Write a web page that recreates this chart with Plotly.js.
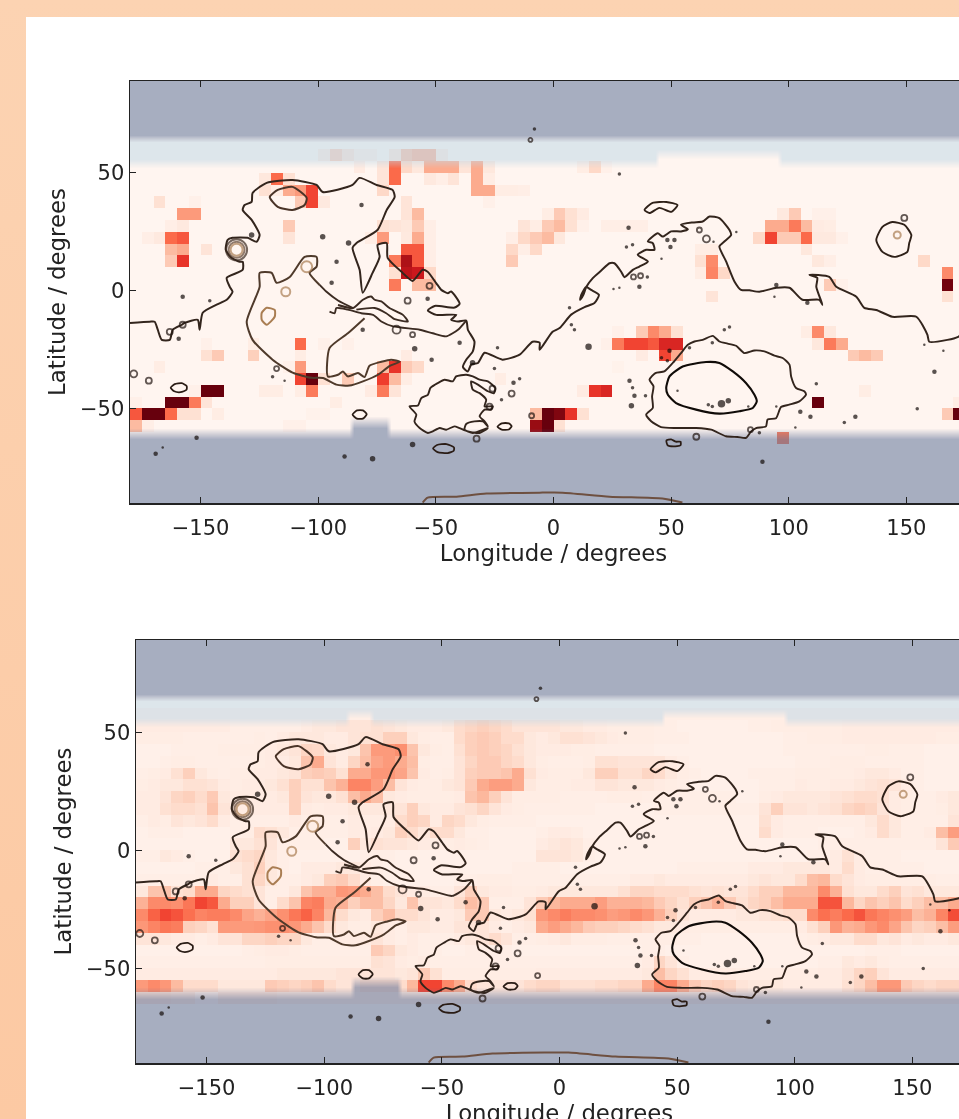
<!DOCTYPE html>
<html><head><meta charset="utf-8">
<script src="https://cdn.plot.ly/plotly-3.0.1.min.js"></script>
<style>
html,body{margin:0;padding:0;width:959px;height:1119px;overflow:hidden;background:linear-gradient(180deg,#fcd3b2,#fcc9a3);}
#chart{position:absolute;left:26px;top:17px;width:1000px;height:1140px;filter:blur(0.5px);}
</style></head><body><div id="chart"></div>
<script>
// Longitude / latitude of the lower-left corner of every 5 degree cell, value in percent of the colour range
const lonCells = []; for (let i = 0; i < 72; i++) lonCells.push(-180 + 5 * i);
const latCells = []; for (let i = 0; i < 36; i++) latCells.push(-90 + 5 * i);
const xTicks = [-150,-100,-50,0,50,100,150];
const yTicks = [-50,0,50];
const xTitle = 'Longitude / degrees';
const yTitle = 'Latitude / degrees';

// upper panel: sparse cells [lon, lat, percent]
const cellsA = [
[-100,55,8],[-95,55,20],[-90,55,12],[-85,55,5],[-80,55,5],[-70,55,10],[-65,55,25],[-60,55,30],[-55,55,30],[-50,55,8],
[-85,50,6],[-75,50,10],[-70,50,50],[-65,50,15],[-60,50,8],[-55,50,30],[-50,50,30],[-45,50,30],[-40,50,10],[-35,50,30],[-30,50,8],[10,50,5],[15,50,15],[20,50,3],
[-125,45,8],[-120,45,50],[-115,45,12],[-75,45,10],[-70,45,50],[-55,45,7],[-50,45,4],[-45,45,10],[-35,45,30],[-30,45,5],
[-125,40,12],[-120,40,5],[-115,40,30],[-110,40,35],[-105,40,60],[-75,40,15],[-35,40,30],[-30,40,30],[-25,40,5],[-20,40,5],[-15,40,4],
[-170,35,12],[-155,35,3],[-110,35,20],[-105,35,60],[-100,35,7],[-65,35,10],[-30,35,3],
[-160,30,35],[-155,30,35],[-65,30,10],[-60,30,25],[-5,30,5],[0,30,20],[5,30,12],[10,30,6],[95,30,7],[100,30,20],[110,30,3],[115,30,3],
[-165,25,4],[-160,25,7],[-115,25,20],[-75,25,12],[-70,25,10],[-65,25,8],[-60,25,20],[-55,25,4],[-15,25,10],[-10,25,5],[-5,25,20],[0,25,25],[5,25,12],[10,25,3],[20,25,4],[25,25,4],[30,25,4],[35,25,4],[90,25,30],[95,25,30],[100,25,45],[105,25,25],[110,25,6],[115,25,5],
[-175,20,4],[-170,20,7],[-165,20,50],[-160,20,55],[-115,20,10],[-80,20,5],[-75,20,35],[-65,20,7],[-60,20,30],[-55,20,4],[-20,20,4],[-15,20,15],[-10,20,20],[-5,20,25],[0,20,8],[85,20,15],[90,20,60],[95,20,20],[100,20,20],[105,20,50],[110,20,7],[115,20,7],[120,20,3],
[-165,15,25],[-160,15,30],[-150,15,10],[-65,15,55],[-60,15,55],[-55,15,4],[-20,15,15],[-15,15,4],[-10,15,15],[60,15,5],[65,15,5],[105,15,8],
[-165,10,20],[-160,10,65],[-70,10,45],[-65,10,85],[-60,10,55],[-55,10,4],[-20,10,20],[60,10,12],[65,10,40],[110,10,8],[115,10,4],[155,10,15],
[-70,5,12],[-65,5,80],[-60,5,75],[-55,5,15],[60,5,5],[65,5,42],[70,5,15],[165,5,40],
[-70,0,45],[-60,0,25],[-55,0,25],[115,0,20],[120,0,3],[165,0,98],
[65,-5,10],[165,-5,12],
[-150,-25,3],[-130,-25,5],[-110,-25,50],[-100,-25,3],[-90,-25,3],[25,-20,3],[35,-20,20],[40,-20,40],[45,-20,30],[50,-20,12],[105,-20,5],[110,-20,40],[115,-20,8],
[20,-25,3],[25,-25,45],[30,-25,60],[35,-25,60],[40,-25,55],[45,-25,70],[50,-25,70],[110,-25,8],[115,-25,45],[120,-25,30],
[-150,-30,12],[-145,-30,20],[-130,-30,18],[-110,-30,5],[-65,-30,6],[35,-30,6],[45,-30,60],[50,-30,30],[125,-30,20],[130,-30,25],[135,-30,20],
[-170,-35,5],[-115,-35,3],[-110,-35,35],[-75,-35,25],[-70,-35,65],[-65,-35,20],[-60,-35,15],[25,-35,2],
[-110,-40,60],[-105,-40,100],[-100,-40,12],[-90,-40,20],[-75,-40,62],[-70,-40,25],[-65,-40,5],[-25,-40,5],
[-155,-45,3],[-150,-45,100],[-145,-45,100],[-125,-45,5],[-120,-45,5],[-110,-45,5],[-105,-45,45],[-80,-45,6],[-75,-45,45],[-70,-45,10],[10,-45,6],[15,-45,65],[20,-45,70],[130,-45,5],
[-180,-50,3],[-165,-50,100],[-160,-50,100],[-155,-50,45],[-150,-50,10],[-95,-50,5],[110,-50,100],[170,-50,5],
[-180,-55,55],[-175,-55,100],[-170,-55,100],[-165,-55,50],[-160,-55,12],[-155,-55,12],[-145,-55,5],[-105,-55,2],[-100,-55,2],[-10,-55,25],[-5,-55,100],[0,-55,95],[5,-55,65],[10,-55,12],[165,-55,20],[170,-55,100],
[-180,-60,25],[-175,-60,4],[-115,-60,3],[-110,-60,3],[-10,-60,90],[-5,-60,100],[0,-60,12],
[95,-65,45]
];

// lower panel: dense rows, each row lists lon -180 .. 175 in steps of 5, percent of colour range
const rowN55=[4,4,4,4,4,4,4,4,4,4,4,4, 4,4,4,4,4,4,4,4,4,4,4,4, 4,4,4,4,4,4,4,4,4,4,4,4, 4,4,4,4,4,4,4,4,4,4,4,4, 4,4,4,4,4,4,4,4,4,4,4,4, 4,4,4,4,4,4,4,4,4,4,4,4];
const rowN50=[6,6,6,6,6,6,6,6,4,4,4,4, 4,4,6,8,8,10,10,10,12,10,8,6, 6,6,8,14,16,18,16,14,10,10,10,10, 8,8,6,6,5,5,5,5,4,4,3,3, 3,3,3,3,4,4,5,5,5,5,5,5, 6,6,6,6,6,6,6,6,6,6,6,6];
const rowN45=[5,5,5,5,4,4,4,4,4,4,5,4, 6,8,8,8,6,6,10,12,12,18,18,8, 5,4,4,14,18,20,18,14,14,8,6,8, 12,12,10,8,6,5,5,5,4,4,4,3, 3,3,3,3,3,3,3,4,4,5,5,5, 6,6,6,6,6,6,6,6,5,5,5,5];
const rowN40=[3,3,3,4,4,4,4,5,5,5,5,6, 8,10,16,15,8,6,8,22,35,35,38,22, 8,5,4,12,18,20,18,16,12,8,6,6, 6,5,5,4,4,4,4,4,3,3,3,3, 3,3,3,3,3,3,3,4,4,4,4,4, 4,4,5,5,4,4,4,3,3,3,3,3];
const rowN35=[3,3,4,5,5,4,4,4,4,4,5,6, 6,8,22,30,10,6,16,24,32,35,30,24, 5,4,4,10,16,20,20,16,14,8,5,4, 4,4,5,12,12,10,10,10,10,6,4,3, 3,3,3,3,3,3,3,3,4,4,4,5, 5,5,4,4,4,4,4,3,3,3,3,3];
const rowN30=[4,5,6,12,18,8,5,4,5,5,6,6, 8,10,18,20,18,12,30,30,36,36,32,22, 6,4,5,10,18,20,20,22,30,12,6,5, 5,5,8,18,18,12,12,16,14,8,5,4, 3,3,3,3,4,4,4,4,5,5,5,5, 5,6,8,8,6,4,4,3,3,3,3,3];
const rowN25=[5,6,8,8,12,12,10,6,5,6,6,8, 12,18,12,12,22,28,42,42,34,24,10,6, 5,5,8,10,20,30,34,34,30,8,5,5, 5,6,6,10,10,8,8,8,6,5,4,3, 3,3,3,3,3,4,4,4,6,5,5,6, 6,8,10,12,10,6,4,3,3,3,3,3];
const rowN20=[6,6,10,16,18,14,20,8,6,6,6,6, 8,18,10,8,8,12,24,30,24,8,6,5, 5,5,5,6,22,26,18,10,5,5,5,5, 4,4,4,4,5,5,5,4,4,4,4,4, 4,4,4,3,3,5,6,8,8,8,8,10, 12,14,14,12,6,5,4,4,6,8,8,8];
const rowN15=[6,6,12,14,14,12,22,10,6,6,6,6, 6,18,6,5,6,6,8,8,8,8,10,18, 8,6,6,10,12,16,10,6,5,4,4,4, 4,4,4,3,3,3,3,3,4,4,4,4, 4,4,4,4,4,10,18,10,10,8,10,12, 16,18,16,10,6,5,4,4,5,8,8,8];
const rowN10=[4,6,5,10,8,10,14,6,4,4,4,4, 4,6,4,4,4,4,6,5,5,6,14,18, 16,6,16,14,8,5,4,4,4,4,3,3, 3,3,3,3,3,3,3,3,3,3,3,3, 3,3,3,3,3,12,6,4,4,4,4,4, 4,4,8,14,8,4,4,4,4,10,12,12];
const rowN05=[3,4,4,4,3,3,3,3,4,5,14,12, 8,4,4,4,4,4,6,5,6,8,18,14, 8,14,14,8,4,4,3,3,3,3,4,6, 6,5,3,3,3,3,3,3,3,3,3,3, 3,3,3,3,3,14,6,4,4,4,3,3, 3,4,6,14,8,4,4,6,24,34,34,30];
const rowN00=[3,3,3,3,3,3,3,3,8,8,12,10, 4,4,4,4,3,3,18,8,12,10,10,8, 6,5,5,6,5,4,3,3,3,3,6,8, 10,8,4,3,3,3,3,3,3,3,3,3, 3,3,3,3,3,3,3,3,3,3,4,4, 4,4,4,4,4,4,4,4,10,20,22,20];
const rowS05=[4,4,8,6,4,3,3,3,12,14,16,8, 4,3,3,3,3,3,3,4,4,4,3,3, 3,3,3,3,3,3,3,3,3,3,10,10, 10,8,4,3,3,3,3,3,3,3,3,3, 3,3,3,3,3,3,3,3,3,4,4,6, 12,6,4,4,4,3,3,3,3,3,4,4];
const rowS10=[3,3,3,3,3,4,4,4,8,12,18,8, 4,3,6,6,6,8,8,6,4,3,3,3, 3,3,3,3,3,3,3,3,4,4,4,4, 3,3,3,3,3,3,3,3,3,3,4,4, 4,4,4,4,6,6,6,8,8,8,8,6, 14,6,4,4,4,4,4,3,3,3,4,4];
const rowS15=[4,4,4,4,4,4,6,4,4,12,16,8, 4,4,6,8,18,20,14,6,4,3,3,3, 3,3,3,4,4,5,5,5,4,4,4,4, 4,4,4,4,4,4,6,6,8,6,6,6, 6,6,6,6,8,10,8,8,14,24,26,14, 10,6,5,5,5,5,5,5,4,4,4,4];
const rowS20=[8,22,22,12,14,30,30,16,14,12,10,4, 4,8,22,28,28,36,34,30,24,14,10,6, 6,4,4,10,18,8,6,6,5,5,6,8, 8,8,8,8,8,12,16,16,14,14,14,12, 10,12,10,10,14,18,18,26,26,26,40,28, 12,8,8,14,18,10,12,8,8,8,8,8];
const rowS25=[28,40,40,38,46,60,55,30,18,18,10,4, 14,22,42,44,30,28,18,24,24,16,8,22, 10,10,8,14,24,20,4,4,4,10,20,26, 30,30,30,34,28,28,28,26,20,16,12,18, 22,28,20,12,16,18,24,30,30,30,56,56, 26,16,22,18,22,14,18,24,24,30,24,28];
const rowS30=[40,52,60,56,48,42,44,44,40,32,28,32, 38,46,52,42,26,14,8,6,18,24,14,14, 10,6,6,8,20,20,8,6,8,12,36,40, 44,40,40,38,34,36,40,36,28,18,10,6, 6,6,6,8,8,10,12,14,14,40,48,44, 50,56,46,42,38,34,24,28,42,58,60,55];
const rowS35=[36,42,46,44,18,16,12,35,35,35,36,38, 38,36,30,22,14,8,5,5,8,6,4,8, 8,6,6,10,10,10,6,4,6,8,30,34, 30,26,20,18,18,16,14,12,8,8,6,5, 5,5,5,5,5,5,5,5,6,12,18,36, 28,30,36,40,32,22,16,18,24,34,38,36];
const rowS40=[10,10,8,6,6,4,6,10,10,16,16,18, 16,16,8,4,4,6,6,6,10,6,4,6, 4,4,4,6,8,10,14,10,4,4,5,6, 8,5,5,5,4,4,4,4,5,5,4,4, 3,3,3,3,3,3,3,3,4,5,6,8, 8,14,14,8,10,6,8,6,6,8,10,8];
const rowS45=[3,3,3,3,3,3,3,3,3,4,5,6, 6,5,4,4,4,4,4,4,20,16,8,6, 4,4,3,3,4,4,4,4,3,3,3,3, 3,3,3,3,3,3,3,4,4,3,3,3, 3,3,3,3,3,3,3,3,3,3,3,3, 3,3,4,4,4,3,3,3,3,3,3,3];
const rowS50=[4,4,4,4,4,4,4,4,4,4,4,5, 5,5,5,5,5,5,5,5,12,10,6,5, 6,4,4,4,4,4,4,4,4,4,4,4, 4,4,4,4,4,4,4,6,16,10,4,3, 3,3,3,3,3,3,3,3,3,3,4,4, 8,6,8,5,4,4,4,4,4,4,4,4];
const rowS55=[6,6,6,6,6,6,6,6,6,6,6,6, 8,8,8,8,8,10,10,10,10,10,8,10, 20,12,5,5,5,5,5,5,5,5,6,6, 6,6,6,6,6,6,6,8,24,16,12,6, 6,6,6,5,5,5,5,5,5,5,6,6, 10,16,18,10,6,6,6,6,6,6,6,6];
const rowS60=[35,40,36,25,14,14,14,8,8,8,8,20, 18,16,18,22,14,10,10,14,14,14,14,26, 60,60,40,30,14,10,10,10,10,14,16,16, 12,12,12,14,14,16,16,30,42,42,30,20, 16,18,16,10,8,8,8,6,6,6,6,6, 12,16,24,36,36,20,16,14,16,16,14,14];
const rowS65=[12,12,12,10,10,4,4,10,10,10,10,10, 8,8,8,8,8,8,8,8,8,8,8,8, 8,8,8,8,8,8,8,8,8,8,8,8, 8,8,8,8,8,8,8,8,8,8,8,8, 8,8,8,8,8,8,8,8,8,8,8,8, 8,8,8,8,8,8,8,8,8,8,8,8];
const rowsB = {55:rowN55,50:rowN50,45:rowN45,40:rowN40,35:rowN35,30:rowN30,25:rowN25,20:rowN20,15:rowN15,10:rowN10,5:rowN05,0:rowN00,
 '-5':rowS05,'-10':rowS10,'-15':rowS15,'-20':rowS20,'-25':rowS25,'-30':rowS30,'-35':rowS35,'-40':rowS40,'-45':rowS45,'-50':rowS50,'-55':rowS55,'-60':rowS60,'-65':rowS65};

// polar cover boundaries (degrees latitude)
const grayNorthLat = 65, lightSouthLat = 55, coverSouthLat = -60;
const notchesA = {north:[[45,95]], south:[[-85,-70]]};
const notchesB = {north:[[45,95],[-90,-80]], south:[[-87,-69]]};
const mLat=[-90,-63,-58,-53,52,56,60,63,66,90];
const mLon=[];for(let v=-181;v<=181;v+=2)mLon.push(v);

// contours (lon, lat)
const coastLon=[-180,-171.6,-169.5,-168.2,-166.5,-163.1,-161.8,-158,-156.8,-151.2,-150.4,-149.1,-143.2,-138.9,-136.4,-137.6,-138.9,-132.1,-132.1,-133.4,-136.8,-139.3,-138.5,-136.4,-130,-126.2,-124.9,-128.3,-132.1,-131.3,-128.3,-127.9,-121.9,-110.9,-100.7,-98.1,-85.4,-82.4,-75.2,-68.4,-67.5,-70.9,-74.8,-83.7,-85.4,-82.4,-81.1,-76.9,-73.9,-74.8,-70.9,-70.5,-64.1,-59.9,-55.6,-53.5,-49.8,-47.7,-44.9,-43.5,-39.9,-42,-50.5,-53.4,-49.8,-41.3,-43.5,-40.6,-37.1,-36.4,-33.6,-34.3,-37.1,-38.5,-36.4,-35,-32.1,-29.3,-21.7,-14.4,-8.9,-5.9,-5.9,-0.4,2.6,7.5,13.2,17.4,19.3,16,13.9,11.8,11.3,12.7,13.9,16.7,20.3,23.8,25.9,28.7,30.2,33.7,36.5,40.1,35.8,39.4,42.9,42.2,40.1,44.3,46.4,50,54.2,57.1,54.2,59.2,63.4,66.3,70.5,74.8,75.5,72.6,70.5,73.4,76.9,79.7,83.3,87.5,94.7,100.3,105.8,113,114.3,111.7,112.1,108.8,117.2,120.2,128.7,132.1,137.2,144,154.2,158.9,159.7,167.4,172,180];
const coastLat=[-13.6,-13.1,-13.1,-16.5,-20.8,-20.8,-16.5,-14.4,-13.6,-12.3,-16.5,-9.3,-5.9,-3.8,-0.4,1.7,5.5,8.9,12.3,12.3,14,17.4,21.6,22.5,22.5,20.8,23.7,30.1,34.3,36.4,37.7,41.5,45.8,47,44.9,41.9,44.9,47.9,44.9,42.8,39.8,34.3,25.8,20.3,18.2,8.9,-0.8,7.6,14.4,19.5,20.3,14,7.6,4.2,8.9,8.1,3.2,0.4,-1,-0.3,-5.5,-7.1,-6.4,-8.3,-10.2,-10.2,-12.3,-13,-12.6,-16.5,-21.5,-25.7,-29.2,-32.3,-34.2,-31.3,-30.6,-26.3,-29.2,-27.1,-21.6,-22,-25,-17.4,-15.8,-10.1,-6.9,-5.2,-1.7,0.4,1.6,-1.7,-3.8,-1.7,1.6,5.4,8.6,11.7,11.7,8.2,5.8,8.9,10.3,12.4,15.3,17.4,17.4,20.2,20.9,24.4,23,25.2,25.2,26.1,28,29,29.4,31.5,30.8,25.8,23.7,20.9,18.8,12.4,4,0.4,0.2,-0.4,1.3,1.3,-3.8,-3.8,-5.9,1.7,5.5,6.8,5.9,1.7,-2.5,-7.2,-8.1,-11,-11,-18.6,-21.6,-20.8,-19.5,-13.6];
const vallesLon=[-80.3,-87.4,-95.2,-95.9,-91.6,-89.5,-87.4,-83.1,-80.3,-78.2,-73.2,-69,-65.4,-69.6,-74.6,-81,-86.7,-92.3,-98,-102.8,-110.9,-119.4,-127.9,-130.4,-124.9,-124.9,-119.8,-117.7,-112.1,-105.8,-100.7,-100.7,-103.7,-99.4];
const vallesLat=[-11.6,-18,-24.3,-36.3,-35.6,-34.2,-36.3,-34.9,-36.6,-31.8,-30.1,-29.2,-30.1,-31.8,-35.6,-38.4,-40.2,-39.8,-37,-36.9,-34.7,-29.2,-20.8,-13.1,1.7,7.6,7.6,3.4,5.9,14.4,14.4,10.2,7.6,2.5];
const channelLon=[-95.2,-93,-92.3,-87.4,-81.7,-76.7,-73.2,-68.2,-56.9,-51.3,-45.6,-40.6,-37.1,null,-91.6,-85.2,-81,-77.5,-76,-73.2,-69.7,-64,-61.9,-67.5,-71.1,-76,-83.8,null,-99.4,-96.6,-91.6,-85.2];
const channelLat=[-8.8,-9.5,-7.3,-8,-9.5,-10.2,-13,-15.1,-16.5,-18,-19.3,-16.5,-12.6,null,-6,-7.3,-3.8,-2.4,-3.8,-4.5,-7.3,-10.2,-13,-12,-9.5,-7.3,-8,null,2.5,-0.3,-4.1,-7.3];
const hellasRimLon=[39.4,42.2,41.9,42.5,40.8,43.3,47.1,50.7,54.2,57.1,59.9,63.4,67.7,70.5,74,77.6,81.1,85.4,89.6,93.9,97.4,100.3,101,103.1,106.6,107.3,104.5,100.2,96.7,94.6,91,90.3,86.1,84,81.8,78.3,73.3,67,60.6,52.1,45.7,41.5,39.4];
const hellasRimLat=[-52.5,-49.7,-44.8,-40.5,-37.7,-34.9,-34.2,-30.6,-26.4,-22.9,-21.5,-20.8,-19.1,-21.5,-22.4,-23.3,-26.4,-25.3,-25.7,-27.5,-28.5,-31.3,-36.3,-41.2,-42.6,-44.1,-46.9,-48.3,-49.3,-54,-54.6,-57.5,-58.2,-59.6,-62.4,-62,-61.7,-58.9,-58.2,-58.2,-57.8,-55.3,-52.5];
const hellasInnerLon=[47.9,49.3,54.9,64.8,70.5,76.2,81.8,85.4,86.4,84.7,79,70.5,60.6,52.1,48.6,47.9];
const hellasInnerLat=[-41.2,-36.3,-32.1,-30.2,-30.6,-34.2,-39.1,-44.1,-46.9,-49.7,-51.1,-52.1,-50.4,-47.6,-44.1,-41.2];
const argyreLon=[-61.2,-57.6,-56.2,-53.4,-52.3,-49.1,-46.3,-42.8,-41.4,-37.1,-34.3,-31.4,-27.9,-24.8,-25.3,-27.9,-32.1,-35,-34.3,-31.4,-28.6,-29.3,-25.8,-26.5,-29.3,-31.4,-29.3,-27.9,-30,-33.6,-37.1,-37.8,-34.3,-27.9,-31.4,-36.4,-40,-42.1,-45.6,-48.4,-51.3,-53.4,-56.9,-59.1,-58.3,-61.2];
const argyreLat=[-49,-48.6,-45.5,-44.1,-41.2,-39.1,-37.7,-38.4,-36.3,-35.6,-36.3,-37.7,-38.4,-41.2,-43.4,-42.6,-39.8,-38.4,-41.9,-43.4,-46.2,-49,-49,-50.4,-50.4,-53.2,-55.4,-57.5,-55.4,-55.4,-56.5,-58.9,-60.3,-58.2,-60.3,-59.6,-58.2,-57.5,-58.9,-58.2,-59.6,-60.3,-58.2,-55.4,-52.5,-49];
const albaLon=[-120.6,-117.2,-110.9,-104.9,-105.8,-110.9,-117.2,-120.6];
const albaLat=[39.8,42.8,44.1,39.4,36.4,34.3,35.6,39.8];
const elysiumLon=[137.2,139.8,144,149.1,152.1,151.2,150.4,144.9,139.8,137.2];
const elysiumLat=[21.6,27.1,29.2,28,23.7,20.3,16.5,14.4,16.5,21.6];
const islandLon=[38.7,42.1,48,52.7,50.1,45,40.8,38.7];
const islandLat=[34.3,37.3,37.7,36.4,33.5,35.2,33,34.3];
const polarLon=[-55.6,-53.5,-41.2,-28.5,-5.9,3.8,23.8,46.3,54.8];
const polarLat=[-89.8,-87.7,-87.3,-86,-85.6,-85.6,-87.3,-88.1,-89.8];
const tanBlobLon=[-124,-121.9,-118.5,-118.5,-121.9,-124,-124];
const tanBlobLat=[-9.3,-7.2,-8.1,-11,-14.4,-12.3,-9.3];
const loopLon=[-162.7,-161,-158,-155.9,-156,-158.5,-161.2,-162.7,null,-51.2,-49.5,-45.5,-42.3,-42.4,-45,-49.3,-51.2,null,-23.8,-22,-19,-17.8,-19,-22,-23.8,null,-85.4,-83.5,-81,-79.4,-81,-83.6,-85.4,null,48,50,52,54,54,51,48.5,48];
const loopLat=[-41.1,-39.6,-39.2,-40.4,-42,-43,-42.6,-41.1,null,-66.9,-65.4,-65,-66.4,-67.8,-68.8,-68.4,-66.9,null,-57.6,-56.2,-56.2,-57.4,-58.8,-58.9,-57.6,null,-52.5,-50.7,-50.7,-52.4,-54.2,-54.2,-52.5,null,-63.5,-63,-64,-64,-65.5,-66,-65.5,-63.5];
const ringLon=[-9.8,-62,-52.7,-163.1,-157.6,-178.4,-172,-117.7,-32.7,-9.3,-17.8,60.7,34,37,62,65,-66.7,-59.9,83.7,-27.2,-25.9,149.1];
const ringLat=[64,-4.2,2.1,-17.4,-14.4,-35.2,-38.1,-33,-62.7,-53,-43.6,-61.9,5.9,6.4,25.8,22,-16.5,-18.6,-58.9,-49.1,-41.5,30.9];
const ringSize=[4,6,6,6,6,7,6,5,6,5,6,6,5,5,5,7,8,5,5,6,6,6];
const dotLon=[-8.1,-128.3,-98.1,-87.1,-92.2,-94.3,-81.6,-157.6,-146.1,-53.5,-159.3,-119.4,-114.3,-151.7,-169.1,-166.1,-88.8,-76.9,-59.9,-22.1,-23.8,-39.9,-51.8,-59,-81.1,-34.4,-25.1,-17,-14.4,14.9,32.3,34.4,33.1,33.6,39.1,88.8,104.9,109.2,111.7,123.6,128.3,154.6,161.9,157.6,165.7,7.6,8.9,72.6,74.8,71.4,74.3,52.7,67.5,65.8,49.3,45.9,48.4,57.8,67.5,94.7,102.8,87.5,82.8,28,31.9,31,33.6,36.5,39.9,25.5,28,45.9,48.4,51.4,49.7,68,77.7,94.7,93.9,107.9,6.8];
const dotLat=[68.6,23.7,22.9,20.3,12.3,3.4,36.4,-2.5,-4.2,-3.4,-20.3,-36.4,-38.1,-62.3,-69.1,-66.5,-70.3,-71.2,-65.2,-46.2,-24.2,-22,-29.2,-24.6,-16.5,-30.5,-33,-39,-37.3,-23.7,-38.1,-44.5,-48.7,-41.1,-44.5,-72.5,-51.3,-53.4,-39.4,-55.9,-53.4,-50,-34.3,-22.9,-25.4,-14.4,-16.5,-16.5,-15.3,-47.9,-46.6,-42.4,-49.1,-48.3,-25.4,-28.4,-29.7,-24.2,-22,-49.1,-58,-60.2,-49.1,49.6,26.7,18.6,19.5,1.7,5.9,0.8,1.3,13.6,21.6,21.6,18.6,20.8,25,2.5,-2.5,-5.1,-7.2];
const dotSize=[3,5,5,5,4,4,4,4,3,4,4,3,2,4,4,2,4,5,5,3,3,4,4,5,4,5,3,4,3,6,4,4,5,3,3,4,4,4,3,3,4,3,4,2,2,3,3,3,3,7,5,2,3,3,4,3,3,3,3,2,2,3,2,3,4,3,3,4,3,2,2,2,4,4,4,2,2,4,2,4,3];
const tanRingLon=[-113.8,-104.9,146.1];
const tanRingLat=[-0.4,10.2,23.7];
const olympusLon=[-134.7,-134.7,-134.7];
const olympusLat=[17.4,17.4,17.4];
const olympusSize=[21,16,12];

const reds=[[0,'#fff5f0'],[0.125,'#fee0d2'],[0.25,'#fcbba1'],[0.375,'#fc9272'],[0.5,'#fb6a4a'],[0.625,'#ef3b2c'],[0.75,'#cb181d'],[0.875,'#a50f15'],[1,'#67000d']];

function gridA(){const z=latCells.map(()=>lonCells.map(()=>0));
  cellsA.forEach(c=>{z[latCells.indexOf(c[1])][lonCells.indexOf(c[0])]=c[2];});return z;}
function gridB(){return latCells.map(l=>rowsB[l]?rowsB[l]:lonCells.map(()=>0));}
const inAny=(lon,list)=>list.some(r=>lon>=r[0]&&lon<=r[1]);
function grayMask(n){return mLat.map(lat=>mLon.map(lon=>{
  const south=inAny(lon,n.south)?coverSouthLat+5:coverSouthLat;
  return (lat>=grayNorthLat||lat<=south)?1:0;}));}
function lightMask(n){return mLat.map(lat=>mLon.map(lon=>{
  const edge=inAny(lon,n.north)?lightSouthLat+5:lightSouthLat;
  return (lat>=edge&&lat<grayNorthLat)?1:0;}));}

function panel(z,notches,xa,ya){
  const base={xaxis:xa,yaxis:ya,hoverinfo:'skip',showlegend:false};
  const line=(x,y,color,w)=>Object.assign({type:'scatter',mode:'lines',x,y,line:{color,width:w,shape:'spline',smoothing:0.6},connectgaps:false},base);
  const cen=a=>a.map(v=>v+2.5);
  return [
    Object.assign({type:'heatmap',x:cen(lonCells),y:cen(latCells),z,zmin:0,zmax:100,colorscale:reds,showscale:false,zsmooth:false},base),
    Object.assign({type:'heatmap',x:mLon,y:mLat,z:lightMask(notches),zmin:0,zmax:1,showscale:false,zsmooth:'best',
      colorscale:[[0,'rgba(193,216,231,0)'],[1,'rgba(193,216,231,0.55)']]},base),
    Object.assign({type:'heatmap',x:mLon,y:mLat,z:grayMask(notches),zmin:0,zmax:1,showscale:false,zsmooth:'best',
      colorscale:[[0,'rgba(95,114,153,0)'],[1,'rgba(95,114,153,0.55)']]},base),
    line(polarLon,polarLat,'#6e5040',2),
    line(tanBlobLon,tanBlobLat,'#a97d52',2),
    line(vallesLon,vallesLat,'#4f3a2b',2),
    line(channelLon,channelLat,'#3b2b22',1.9),
    line(albaLon,albaLat,'#4a3428',2),
    line(coastLon,coastLat,'#33251d',2),
    line(hellasRimLon,hellasRimLat,'#33251d',1.9),
    line(argyreLon,argyreLat,'#33251d',1.9),
    line(elysiumLon,elysiumLat,'#2e2018',1.9),
    line(islandLon,islandLat,'#2e2018',1.9),
    line(loopLon,loopLat,'#2a1c15',1.8),
    line(hellasInnerLon,hellasInnerLat,'#100b08',2.1),
    Object.assign({type:'scatter',mode:'markers',x:olympusLon,y:olympusLat,marker:{symbol:'circle-open',size:olympusSize,color:['#3a2a20','#5f4432','#a97d52'],line:{width:2}}},base),
    Object.assign({type:'scatter',mode:'markers',x:tanRingLon,y:tanRingLat,marker:{symbol:'circle-open',size:[9,11,7],color:'#a97d52',line:{width:2}}},base),
    Object.assign({type:'scatter',mode:'markers',x:ringLon,y:ringLat,marker:{symbol:'circle-open',size:ringSize,color:'#1f1410',line:{width:1.8}}},base),
    Object.assign({type:'scatter',mode:'markers',x:dotLon,y:dotLat,marker:{symbol:'circle',size:dotSize.map(s=>s+0.5),color:'#140d0a',line:{width:0}}},base)
  ];
}

const W=1000,H=1140;
const fontT={family:'"DejaVu Sans", sans-serif',size:21,color:'#222'};
const fontL={family:'"DejaVu Sans", sans-serif',size:22.8,color:'#222'};
function axisX(dom,anchor){return {domain:[dom[0]/W,dom[1]/W],anchor,range:[-180,180],tickmode:'array',tickvals:xTicks,ticks:'inside',ticklen:6,tickwidth:1,tickcolor:'#222',
  mirror:'ticks',showline:true,linecolor:'#222',linewidth:1.5,showgrid:false,zeroline:false,tickfont:fontT,ticklabelstandoff:5,
  title:{text:xTitle,font:fontL,standoff:6},automargin:false};}
function axisY(dom,anchor){return {domain:[1-dom[1]/H,1-dom[0]/H],anchor,range:[-90,89],tickmode:'array',tickvals:yTicks,ticks:'inside',ticklen:6,tickwidth:1,tickcolor:'#222',
  mirror:'ticks',showline:true,linecolor:'#222',linewidth:1.5,showgrid:false,zeroline:false,tickfont:fontT,
  title:{text:yTitle,font:fontL,standoff:8},automargin:false};}

const layout={width:W,height:H,margin:{l:0,r:0,t:0,b:0},paper_bgcolor:'#fff',plot_bgcolor:'#fff',showlegend:false,
  xaxis:axisX([104,951],'y'),yaxis:axisY([64,486],'x'),
  xaxis2:axisX([110,957],'y2'),yaxis2:axisY([623,1046],'x2')};
const traces=panel(gridA(),notchesA,'x','y').concat(panel(gridB(),notchesB,'x2','y2'));
Plotly.newPlot('chart',traces,layout,{displayModeBar:false,staticPlot:true});
</script></body></html>
